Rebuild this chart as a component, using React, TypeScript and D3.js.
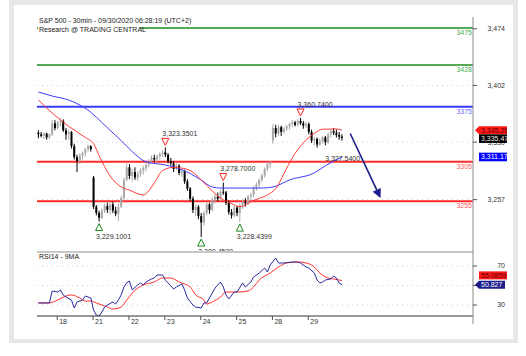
import React from 'react';
import * as d3 from 'd3';

const FONT = '"Liberation Sans", Arial, sans-serif';

// ---------- DATA ----------
const titleLine1 = 'S&P 500 - 30min - 09/30/2020 06:28:19 (UTC+2)';
const titleLine2 = 'Research @ TRADING CENTRAL';
const rsiTitle = 'RSI14 - 9MA';

// 30-min bars [open, high, low, close], 17 Sep (partial) .. 29 Sep
const ohlc: [number, number, number, number][] = [
  [3342, 3345, 3335, 3340], [3340, 3343, 3336, 3338], [3338, 3342, 3334, 3341], [3341, 3342, 3333, 3336],
  [3336, 3341, 3334, 3340], [3340, 3358, 3338, 3354], [3354, 3358, 3345, 3348],
  // 18
  [3348, 3357, 3346, 3355], [3355, 3361, 3350, 3357], [3357, 3359, 3343, 3345], [3345, 3348, 3333, 3340],
  [3340, 3346, 3333, 3343], [3343, 3344, 3322, 3325], [3325, 3328, 3308, 3311], [3311, 3314, 3292, 3306],
  [3306, 3316, 3302, 3313], [3313, 3318, 3308, 3316], [3316, 3323, 3312, 3321], [3321, 3327, 3317, 3325],
  [3325, 3326, 3318, 3321],
  // 21
  [3285, 3287, 3245, 3248], [3248, 3250, 3237, 3240], [3240, 3243, 3229.1001, 3234], [3234, 3246, 3232, 3243],
  [3243, 3252, 3240, 3249], [3249, 3253, 3240, 3244], [3244, 3254, 3238, 3251], [3251, 3254, 3240, 3243],
  [3243, 3248, 3236, 3239], [3239, 3252, 3230, 3248], [3248, 3262, 3246, 3259], [3259, 3285, 3257, 3282],
  [3282, 3303, 3280, 3298],
  // 22
  [3298, 3302, 3283, 3287], [3287, 3296, 3280, 3292], [3292, 3298, 3282, 3285], [3285, 3293, 3281, 3290],
  [3290, 3297, 3286, 3294], [3294, 3300, 3289, 3297], [3297, 3303, 3293, 3301], [3301, 3308, 3298, 3306],
  [3306, 3313, 3303, 3310], [3310, 3314, 3305, 3308], [3308, 3314, 3304, 3312], [3312, 3317, 3308, 3315],
  [3315, 3320, 3311, 3317],
  // 23
  [3317, 3323.3501, 3311, 3314], [3314, 3316, 3303, 3306], [3306, 3310, 3300, 3303], [3303, 3306, 3292, 3296],
  [3296, 3303, 3294, 3300], [3300, 3302, 3288, 3291], [3291, 3296, 3286, 3293], [3293, 3295, 3277, 3280],
  [3280, 3283, 3268, 3271], [3271, 3273, 3255, 3258], [3258, 3261, 3240, 3244], [3244, 3251, 3236, 3248],
  [3248, 3250, 3232, 3236],
  // 24
  [3236, 3240, 3209.45, 3228], [3228, 3243, 3224, 3240], [3240, 3254, 3237, 3251], [3251, 3253, 3239, 3244],
  [3244, 3260, 3242, 3257], [3257, 3264, 3252, 3261], [3261, 3266, 3255, 3258], [3258, 3270, 3256, 3267],
  [3267, 3278.7, 3263, 3266], [3266, 3268, 3250, 3253], [3253, 3256, 3238, 3241], [3241, 3245, 3233, 3237],
  [3237, 3250, 3235, 3247],
  // 25
  [3247, 3249, 3236, 3240], [3240, 3252, 3228.4399, 3250], [3250, 3257, 3245, 3254], [3254, 3259, 3248, 3252],
  [3252, 3263, 3250, 3261], [3261, 3266, 3257, 3263], [3263, 3274, 3260, 3272], [3272, 3279, 3268, 3276],
  [3276, 3284, 3272, 3282], [3282, 3290, 3279, 3288], [3288, 3298, 3285, 3296], [3296, 3305, 3293, 3302],
  [3302, 3306, 3297, 3304],
  // 28
  [3332, 3353, 3328, 3348], [3348, 3352, 3336, 3341], [3341, 3352, 3338, 3349], [3349, 3351, 3338, 3343],
  [3343, 3349, 3341, 3347], [3347, 3352, 3344, 3350], [3350, 3355, 3346, 3353], [3353, 3358, 3349, 3355],
  [3355, 3357, 3350, 3352], [3352, 3359, 3350, 3357], [3357, 3360.74, 3352, 3354], [3354, 3357, 3347, 3351],
  [3351, 3356, 3348, 3353],
  // 29
  [3353, 3355, 3340, 3343], [3343, 3346, 3329, 3332], [3332, 3337, 3326, 3334], [3334, 3336, 3323, 3327],
  [3327, 3335, 3325, 3331], [3331, 3338, 3328, 3336], [3336, 3338, 3326, 3330], [3330, 3342, 3328, 3340],
  [3340, 3346, 3336, 3344], [3344, 3348, 3339, 3342], [3342, 3346, 3336, 3339], [3339, 3343, 3333, 3337],
  [3337, 3340, 3332, 3335.47],
];

// moving averages: [bar index, value]
const maFast: [number, number][] = [
  [0, 3383.5], [5, 3367], [11, 3350], [17, 3336], [20, 3328], [22, 3313], [26, 3287], [30, 3273],
  [33, 3269], [38, 3263], [42, 3278], [45, 3294], [49, 3298], [52, 3297], [55, 3294], [59, 3282],
  [63, 3268], [66, 3259], [70, 3252], [73, 3248], [78, 3256], [83, 3263], [86, 3271], [89, 3290],
  [92, 3310], [96, 3329], [100, 3341], [103, 3346.5], [108, 3346.7], [110, 3345.28],
];
const maSlow: [number, number][] = [
  [0, 3393.7], [5, 3388.6], [11, 3383.5], [14, 3379], [19, 3368], [23, 3355], [26, 3345], [30, 3332],
  [34, 3318], [39, 3305], [46, 3301], [52, 3295], [59, 3282], [63, 3273], [66, 3271.7], [81, 3271.7],
  [85, 3273], [91, 3282], [100, 3291], [104, 3300], [110, 3311.17],
];

// RSI(14) and its 9-period MA: [bar index, value]
const rsi: [number, number][] = [
  [0, 32.1], [4, 32.1], [5, 44.4], [7, 43.3], [8, 45.4], [9, 40.3], [10, 38.2], [12, 35.1], [13, 26.9],
  [14, 33.1], [16, 35.1], [17, 39.2], [18, 38.2], [19, 37.2], [20, 24.9], [21, 19.7], [22, 18.7], [23, 22.8],
  [24, 27.9], [25, 30], [27, 33.1], [28, 31], [29, 35.1], [30, 40.3], [31, 48.5], [32, 52.6], [33, 54.6],
  [34, 45.4], [36, 50.5], [37, 52.6], [38, 50.5], [39, 53.6], [41, 56.7], [42, 57.7], [43, 60.8], [45, 60.8],
  [46, 55.6], [47, 52.6], [49, 46.4], [50, 48.5], [52, 51.5], [53, 45.4], [54, 37.2], [56, 30], [57, 27.9],
  [59, 26.9], [60, 32.1], [61, 32.1], [63, 42.3], [64, 47.4], [66, 53.6], [67, 48.5], [68, 40.3], [69, 36.2],
  [71, 43.3], [72, 43.3], [74, 52.6], [75, 48.5], [77, 53.6], [78, 58.7], [80, 62.8], [82, 67.9], [83, 63.8],
  [84, 71], [86, 78.2], [87, 73.1], [89, 73.1], [92, 74.1], [94, 74.1], [95, 73.1], [97, 69], [98, 67.9],
  [100, 62.8], [101, 55.6], [102, 52.6], [103, 53.6], [104, 55.6], [106, 56.7], [107, 59.7], [108, 57.7],
  [109, 52.6], [110, 50.827],
];
const rsiMa: [number, number][] = [
  [0, 32.1], [4, 32.1], [7, 35.1], [10, 39.2], [12, 40.3], [15, 37.2], [17, 34.1], [19, 34.1], [21, 32.1],
  [25, 27.9], [27, 25.9], [30, 27.9], [32, 35.1], [34, 42.3], [38, 50.5], [42, 53.6], [45, 57.7], [48, 57.7],
  [51, 53.6], [55, 48.5], [57, 40.3], [60, 35.1], [61, 31], [63, 33.1], [66, 38.2], [68, 43.3], [72, 43.3],
  [76, 44.4], [78, 48.5], [80, 55.6], [84, 62.8], [87, 69], [90, 73.1], [94, 74.1], [97, 73.1], [100, 69],
  [102, 62.8], [105, 57.7], [107, 56.7], [110, 55.0859],
];

const dayLabels = ['18', '21', '22', '23', '24', '25', '28', '29'];
const dayStartIdx = [7, 20, 33, 46, 59, 72, 85, 98];
const priceTicks = [3474, 3402, 3330, 3257];
const rsiGrid = [70, 50, 30];
const rsiTickLabels = [70, 30];

const levelValues = [3475, 3428, 3375, 3305, 3255];

const pivotIdx = [22, 46, 59, 67, 73, 95, 105];
const pivotPrice = [3229.1001, 3323.3501, 3209.45, 3278.7, 3228.4399, 3360.74, 3327.54];
const pivotKind = ['low', 'high', 'low', 'high', 'low', 'high', 'text'];

const arrowFrom: [number, number] = [113, 3341];
const arrowTo: [number, number] = [124, 3259];

// ---------- STYLE ----------
const levelStyle: Record<number, { color: string; text: string; width: number }> = {
  3475: { color: '#1e8c1e', text: '#4caf4c', width: 1.3 },
  3428: { color: '#1e8c1e', text: '#4caf4c', width: 1.3 },
  3375: { color: '#3a3aff', text: '#6b6bff', width: 2 },
  3305: { color: '#ff2a2a', text: '#ff6060', width: 2 },
  3255: { color: '#ff2a2a', text: '#ff6060', width: 2 },
};

export default function App() {
  const L = 37, R = 473;
  const x = d3.scaleLinear().domain([-0.5, 157.5]).range([L, R]);
  const yP = d3.scaleLinear().domain([3475, 3255]).range([28, 201.2]);
  const yR = d3.scaleLinear().domain([70, 30]).range([266, 305]);
  const fmt = d3.format(',.4f');
  const fmt2 = d3.format(',.2f');

  const lineP = d3.line<[number, number]>().x(d => x(d[0])).y(d => yP(d[1])).curve(d3.curveMonotoneX);
  const lineR = d3.line<[number, number]>().x(d => x(d[0])).y(d => yR(d[1]));
  const lineRs = d3.line<[number, number]>().x(d => x(d[0])).y(d => yR(d[1])).curve(d3.curveMonotoneX);

  const lastClose = ohlc[ohlc.length - 1][3];
  const lastFast = maFast[maFast.length - 1][1];
  const lastSlow = maSlow[maSlow.length - 1][1];
  const redY = yP(lastFast);
  const blackY = Math.max(yP(lastClose), redY + 8.5);
  const blueY = yP(lastSlow);
  const lastRsi = rsi[rsi.length - 1][1];
  const lastRsiMa = rsiMa[rsiMa.length - 1][1];
  const navyY = yR(lastRsi);
  const redRY = Math.min(yR(lastRsiMa), navyY - 9.3);

  // arrow geometry
  const ax1 = x(arrowFrom[0]), ay1 = yP(arrowFrom[1]);
  const ax2 = x(arrowTo[0]), ay2 = yP(arrowTo[1]);
  const ang = Math.atan2(ay2 - ay1, ax2 - ax1);
  const hl = 9, hw = 4.5;
  const bx = ax2 - hl * Math.cos(ang), by = ay2 - hl * Math.sin(ang);
  const head = [
    [ax2, ay2],
    [bx + hw * Math.sin(ang), by - hw * Math.cos(ang)],
    [bx - hw * Math.sin(ang), by + hw * Math.cos(ang)],
  ].map(p => p.join(',')).join(' ');

  const tri = (cx: number, cy: number, down: boolean) => {
    const s = 3.5;
    return down
      ? `${cx - s},${cy - s} ${cx + s},${cy - s} ${cx},${cy + s}`
      : `${cx - s},${cy + s} ${cx + s},${cy + s} ${cx},${cy - s}`;
  };

  const boxText = { fontFamily: FONT, fontSize: 7 } as const;

  return (
    <svg width={526} height={356} style={{ position: 'absolute', left: 0, top: 0, background: '#fff' }}>
      <defs>
        <clipPath id="mainClip"><rect x={L} y={14} width={R - L} height={237} /></clipPath>
        <clipPath id="rsiClip"><rect x={L} y={253} width={R - L} height={63} /></clipPath>
        <clipPath id="boxClip"><rect x={470} y={0} width={37} height={356} /></clipPath>
      </defs>
      {/* frame */}
      <rect x={9} y={0} width={509} height={343} fill="#e7e7e7" />
      <rect x={14} y={5} width={499} height={334} fill="#ffffff" />

      {/* ---- main panel ---- */}
      <g clipPath="url(#mainClip)">
        {priceTicks.map(t => (
          <line key={t} x1={L} x2={R} y1={yP(t)} y2={yP(t)} stroke="#cfcfcf" strokeWidth={1} strokeDasharray="1,4" />
        ))}
        {levelValues.map(v => (
          <line key={v} x1={L} x2={R} y1={yP(v)} y2={yP(v)} stroke={levelStyle[v].color} strokeWidth={levelStyle[v].width} />
        ))}
        {ohlc.map((d, i) => {
          const [o, h, l, c] = d;
          const up = c >= o;
          const col = up ? '#a8a8a8' : '#000000';
          const cx = x(i);
          const top = yP(Math.max(o, c));
          const hgt = Math.max(1, Math.abs(yP(o) - yP(c)));
          return (
            <g key={i}>
              <line x1={cx} x2={cx} y1={yP(h)} y2={yP(l)} stroke={col} strokeWidth={1} />
              <rect x={cx - 1} y={top} width={2} height={hgt} fill={col} />
            </g>
          );
        })}
        <path d={lineP(maSlow) || ''} fill="none" stroke="#3b3bff" strokeWidth={1} />
        <path d={lineP(maFast) || ''} fill="none" stroke="#ff3b3b" strokeWidth={1} />
        {pivotIdx.map((idx, k) => {
          const cx = x(idx);
          const py = yP(pivotPrice[k]);
          const kind = pivotKind[k];
          const isHigh = kind === 'high';
          const triY = isHigh ? py - 5.5 : py + 5.5;
          const lblY = isHigh ? py - 13.5 : py + 14.5;
          return (
            <g key={k}>
              {kind !== 'text' && (
                <polygon points={tri(cx, triY, isHigh)} fill="#fff" stroke={isHigh ? '#ff2020' : '#1a8a1a'} strokeWidth={1} />
              )}
              <text x={cx - 3} y={lblY} dy="0.35em" fontFamily={FONT} fontSize={7} fill="#333">{fmt(pivotPrice[k])}</text>
            </g>
          );
        })}
        {levelValues.map(v => (
          <text key={v} x={R - 1} y={yP(v) + 4.5} dy="0.35em" textAnchor="end" fontFamily={FONT} fontSize={7} fill={levelStyle[v].text}>{v}</text>
        ))}
        <line x1={ax1} y1={ay1} x2={bx} y2={by} stroke="#1c1c8c" strokeWidth={1.6} />
        <polygon points={head} fill="#1c1c8c" />
      </g>
      {/* title */}
      <rect x={38} y={24} width={102} height={9} fill="#fff" />
      <text x={39} y={22.5} fontFamily={FONT} fontSize={7} fill="#1a1a1a">{titleLine1}</text>
      <text x={39} y={31.5} fontFamily={FONT} fontSize={7} fill="#1a1a1a">{titleLine2}</text>

      {/* ---- separator ---- */}
      <line x1={L} x2={R} y1={252} y2={252} stroke="#c8c8c8" strokeWidth={2} />

      {/* ---- RSI panel ---- */}
      <text x={39} y={259} fontFamily={FONT} fontSize={7} fill="#1a1a1a">{rsiTitle}</text>
      <g clipPath="url(#rsiClip)">
        {rsiGrid.map(t => (
          <line key={t} x1={L} x2={R} y1={yR(t)} y2={yR(t)} stroke="#cfcfcf" strokeWidth={1} strokeDasharray="1,4" />
        ))}
        <path d={lineRs(rsiMa) || ''} fill="none" stroke="#ff3030" strokeWidth={1} />
        <path d={lineR(rsi) || ''} fill="none" stroke="#2a2aa0" strokeWidth={1} />
      </g>
      <line x1={L} x2={R} y1={316} y2={316} stroke="#333" strokeWidth={1.2} />
      {dayStartIdx.map((idx, k) => (
        <g key={k}>
          <line x1={x(idx) - 0.5} x2={x(idx) - 0.5} y1={316} y2={320} stroke="#555" strokeWidth={1} />
          <text x={x(idx) + 1.5} y={321.5} dy="0.35em" fontFamily={FONT} fontSize={7} fill="#333">{dayLabels[k]}</text>
        </g>
      ))}

      {/* ---- right axis ---- */}
      <line x1={R} x2={R} y1={17} y2={324} stroke="#8a8a8a" strokeWidth={1} />
      {priceTicks.map(t => (
        <g key={t}>
          <line x1={R} x2={R + 4} y1={yP(t)} y2={yP(t)} stroke="#555" />
          <text x={505} y={yP(t)} dy="0.35em" textAnchor="end" fontFamily={FONT} fontSize={7} fill="#333">{d3.format(',.0f')(t)}</text>
        </g>
      ))}
      {rsiGrid.map(t => (
        <line key={t} x1={R} x2={R + 4} y1={yR(t)} y2={yR(t)} stroke="#555" />
      ))}
      {rsiTickLabels.map(t => (
        <text key={t} x={505} y={yR(t)} dy="0.35em" textAnchor="end" fontFamily={FONT} fontSize={7} fill="#333">{t}</text>
      ))}

      {/* value boxes */}
      <g clipPath="url(#boxClip)">
        <polygon points={`475,${redY} 479,${redY - 4} 507,${redY - 4} 507,${redY + 4} 479,${redY + 4}`} fill="#ff1a1a" />
        <text x={481} y={redY} dy="0.35em" {...boxText} fill="#5a0000">{fmt2(lastFast)}</text>
        <rect x={479} y={blackY - 4.3} width={28} height={8.6} fill="#000" />
        <text x={481} y={blackY} dy="0.35em" {...boxText} fill="#e8e8e8">{fmt2(lastClose)}</text>
        <rect x={479} y={blueY - 4.3} width={28} height={8.6} fill="#0000ff" />
        <text x={481} y={blueY} dy="0.35em" {...boxText} fill="#fff">{fmt2(lastSlow)}</text>
        <rect x={479} y={redRY - 4} width={28} height={8} fill="#ff1a1a" />
        <text x={481} y={redRY} dy="0.35em" {...boxText} fill="#5a0000">{d3.format('.4f')(lastRsiMa)}</text>
        <polygon points={`475,${navyY} 479,${navyY - 4} 505,${navyY - 4} 505,${navyY + 4} 479,${navyY + 4}`} fill="#1c1c8c" />
        <text x={481} y={navyY} dy="0.35em" {...boxText} fill="#fff">{d3.format('.3f')(lastRsi)}</text>
      </g>
    </svg>
  );
}
